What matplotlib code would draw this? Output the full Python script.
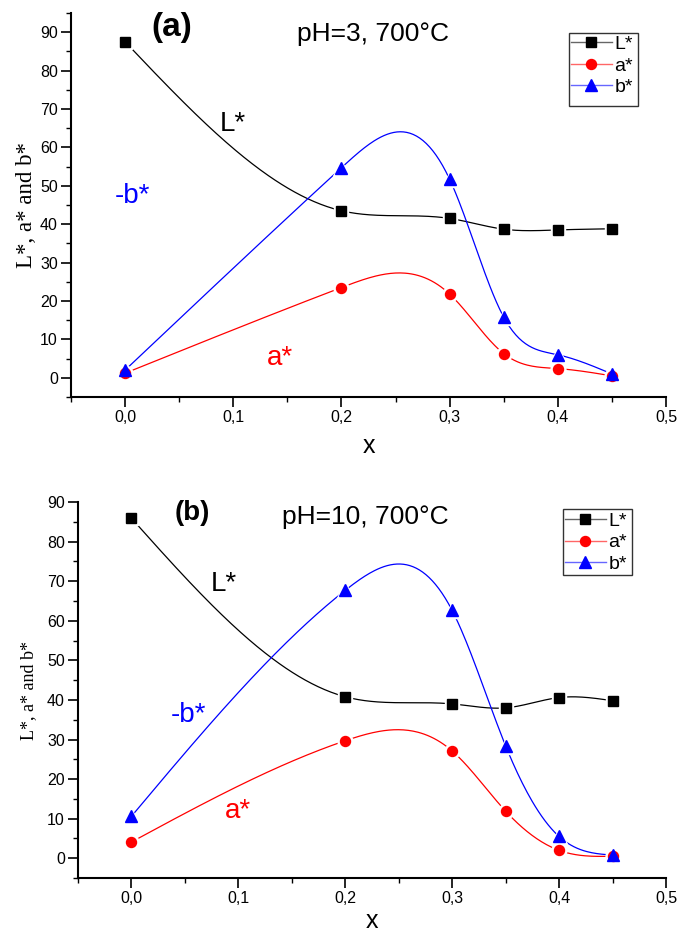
import numpy as np
import matplotlib
matplotlib.use("Agg")
import matplotlib.pyplot as plt
from matplotlib.lines import Line2D
from matplotlib.patches import Rectangle
from matplotlib.ticker import MultipleLocator, FuncFormatter

# composition x and CIE L*a*b* coordinates
x = [0.0, 0.2, 0.3, 0.35, 0.4, 0.45]

L_ph3 = [87.5, 43.5, 41.5, 38.7, 38.5, 38.8]
a_ph3 = [1.2, 23.5, 21.8, 6.3, 2.4, 0.5]
b_ph3 = [2.0, 54.7, 51.7, 15.8, 6.0, 1.0]

L_ph10 = [85.9, 40.8, 39.0, 38.0, 40.6, 39.8]
a_ph10 = [4.1, 29.7, 27.1, 11.9, 2.0, 0.5]
b_ph10 = [10.6, 67.7, 62.6, 28.4, 5.5, 0.8]

panel_titles = ["(a)", "(b)"]
conditions = ["pH=3, 700°C", "pH=10, 700°C"]
series_names = ["L*", "a*", "b*"]

SANS = "Liberation Sans"
SERIF = "Liberation Serif"


def natural_spline(xs, ys, n=300):
    xs = np.asarray(xs, float)
    ys = np.asarray(ys, float)
    k = len(xs)
    h = np.diff(xs)
    A = np.zeros((k, k))
    r = np.zeros(k)
    A[0, 0] = A[-1, -1] = 1.0
    for i in range(1, k - 1):
        A[i, i - 1] = h[i - 1]
        A[i, i] = 2 * (h[i - 1] + h[i])
        A[i, i + 1] = h[i]
        r[i] = 6 * ((ys[i + 1] - ys[i]) / h[i] - (ys[i] - ys[i - 1]) / h[i - 1])
    M = np.linalg.solve(A, r)
    xx = np.linspace(xs[0], xs[-1], n)
    idx = np.clip(np.searchsorted(xs, xx) - 1, 0, k - 2)
    x0, x1 = xs[idx], xs[idx + 1]
    hh = x1 - x0
    t0 = x1 - xx
    t1 = xx - x0
    yy = (M[idx] * t0 ** 3 + M[idx + 1] * t1 ** 3) / (6 * hh) \
        + (ys[idx] / hh - M[idx] * hh / 6) * t0 \
        + (ys[idx + 1] / hh - M[idx + 1] * hh / 6) * t1
    return xx, yy


styles = [("black", "s", 6.5), ("red", "o", 7.2), ("blue", "^", 8.0)]

fig = plt.figure(figsize=(6.8, 9.33), dpi=100)
axes = [fig.add_axes([0.1044, 0.5745, 0.875, 0.4116]),
        fig.add_axes([0.1147, 0.0589, 0.8647, 0.4030])]

data = [(L_ph3, a_ph3, b_ph3), (L_ph10, a_ph10, b_ph10)]
ylims = [(-5, 95), (-5, 90)]

# annotation positions (data coords) per panel
label_pos = [
    {"tag": (0.0434, 89.0, 24), "cond": (0.229, 87.7),
     "L": (0.100, 64.3), "b": (0.0064, 45.5), "a": (0.143, 3.3)},
    {"tag": (0.0566, 85.4, 20), "cond": (0.2185, 84.4),
     "L": (0.0866, 67.6), "b": (0.053, 34.4), "a": (0.0997, 10.1)},
]
legend_anchor = [(0.840, 0.941), (0.828, 0.973)]
# (top, bottom) padding of the legend box in pixels
legend_pad = [(3, 10), (3, 2)]
ylabel_x = [-0.057, -0.070]
ylabel_size = [16.5, 13]
xlabel_y = [-0.096, -0.082]

legends = []
for k, ax in enumerate(axes):
    handles = []
    for vals, name, (col, mk, ms) in zip(data[k], series_names, styles):
        sx, sy = natural_spline(x, vals)
        ax.plot(sx, sy, color=col, lw=0.9, zorder=2)
        # white halo so the curve stops short of each symbol
        ax.plot(x, vals, ls="none", marker=mk, ms=ms + 3.5, color="white",
                mec="white", zorder=3)
        ax.plot(x, vals, ls="none", marker=mk, ms=ms, color=col, mec=col,
                zorder=4)
        line_h = Line2D([], [], color=col, lw=1.0, alpha=0.6)
        mark_h = Line2D([], [], ls="none", marker=mk, ms=ms, color=col, mec=col)
        handles.append((line_h, mark_h))

    ax.set_xlim(-0.05, 0.5)
    ax.set_ylim(*ylims[k])
    ax.spines["top"].set_visible(False)
    ax.spines["right"].set_visible(False)
    ax.spines["left"].set_linewidth(1.5)
    ax.spines["bottom"].set_linewidth(1.5)
    ax.xaxis.set_major_locator(MultipleLocator(0.1))
    ax.xaxis.set_minor_locator(MultipleLocator(0.05))
    ax.yaxis.set_major_locator(MultipleLocator(10))
    ax.yaxis.set_minor_locator(MultipleLocator(5))
    ax.xaxis.set_major_formatter(FuncFormatter(lambda v, p: f"{v:.1f}".replace(".", ",")))
    ax.yaxis.set_major_formatter(FuncFormatter(lambda v, p: f"{v:.0f}"))
    ax.tick_params(which="major", direction="out", length=7, width=1.2,
                   labelsize=11.5, pad=2.5)
    ax.tick_params(which="minor", direction="out", length=3.5, width=1.0)
    for lab in ax.get_xticklabels() + ax.get_yticklabels():
        lab.set_fontfamily(SANS)

    ax.set_ylabel("L*, a* and b*", fontsize=ylabel_size[k], family=SERIF)
    ax.yaxis.set_label_coords(ylabel_x[k], 0.5)
    ax.set_xlabel("x", fontsize=18, family=SANS)
    ax.xaxis.set_label_coords(0.5, xlabel_y[k])

    pos = label_pos[k]
    tx, ty, tfs = pos["tag"]
    ax.text(tx, ty, panel_titles[k], fontsize=tfs, fontweight="bold",
            family=SANS, ha="center", va="baseline")
    cx, cy = pos["cond"]
    ax.text(cx, cy, conditions[k], fontsize=19, family=SANS,
            ha="center", va="baseline")
    ax.text(*pos["L"], "L*", fontsize=20, family=SANS, color="black",
            ha="center", va="baseline")
    ax.text(*pos["b"], "-b*", fontsize=20, family=SANS, color="blue",
            ha="center", va="baseline")
    ax.text(*pos["a"], "a*", fontsize=20, family=SANS, color="red",
            ha="center", va="baseline")

    leg = ax.legend(handles, series_names, loc="upper left",
                    bbox_to_anchor=legend_anchor[k], frameon=False,
                    borderpad=0.0, handlelength=2.1, handletextpad=0.15,
                    labelspacing=0.2, borderaxespad=0,
                    prop={"family": SANS, "size": 14})
    legends.append(leg)

# boxed frame around each legend
fig.canvas.draw()
for leg, (ptop, pbot) in zip(legends, legend_pad):
    bb = leg.get_window_extent()
    frame = Rectangle((bb.x0 - 2, bb.y0 - pbot), bb.width + 7,
                      bb.height + ptop + pbot, transform=None, fill=False,
                      edgecolor="#333333", lw=1.0)
    fig.add_artist(frame)

fig.savefig("out.png", dpi=100)
